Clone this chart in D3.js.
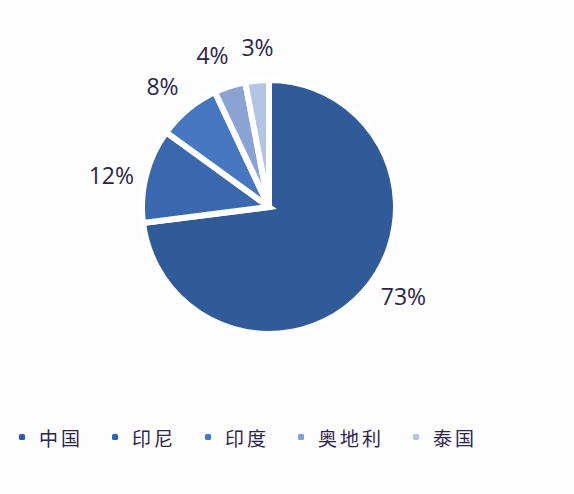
<!DOCTYPE html>
<html>
<head>
  <meta charset="utf-8">
  <script src="https://d3js.org/d3.v7.min.js"></script>
  <style>
    body { margin: 0; background: #fdfdfe; }
    .label { font-family: "Open Sans", "Noto Sans", sans-serif; font-size: 23px; fill: #2d2547; }
    .legend text { font-family: "Noto Sans CJK SC", sans-serif; font-size: 19px; fill: #2d2547; letter-spacing: 3px; }
  </style>
</head>
<body>
<script>
  var categories = ["中国", "印尼", "印度", "奥地利", "泰国"];
  var values = [73, 12, 8, 4, 3];
  var labels = ["73%", "12%", "8%", "4%", "3%"];
  var colors = ["#315b98", "#3a67ad", "#4677c0", "#8aa3d3", "#b4c4e6"];
  var legendColors = ["#2c5cb0", "#2f63b9", "#3d79d6", "#809fd7", "#b2c5e9"];

  var width = 574, height = 494;
  var cx = 269, cy = 207, radius = 127;

  var svg = d3.select("body").append("svg")
      .attr("width", width)
      .attr("height", height);

  var pie = d3.pie().sort(null).value(function(d) { return d; });
  var arcs = pie(values);

  var arc = d3.arc().innerRadius(0).outerRadius(radius);

  var g = svg.append("g").attr("transform", "translate(" + cx + "," + cy + ")");

  g.selectAll("path")
      .data(arcs)
      .enter().append("path")
      .attr("d", arc)
      .attr("fill", function(d, i) { return colors[i]; })
      .attr("stroke", "#fff")
      .attr("stroke-width", 6)
      .attr("stroke-linejoin", "miter");

  // label positions: a bit below the mid-angle on the sides, then pushed apart if crowded
  var pos = arcs.map(function(d, i) {
    var a = (d.startAngle + d.endAngle) / 2;
    a -= i === 0 ? 0.14 : 0.05 * Math.abs(Math.sin(a));
    var r = 161;
    return [Math.sin(a) * r, -Math.cos(a) * r];
  });
  for (var i = 2; i < pos.length; i++) {
    var gap = pos[i][0] - pos[i - 1][0];
    if (gap < 45) {
      pos[i - 1][0] -= (45 - gap) / 2;
      pos[i][0] += (45 - gap) / 2;
    }
  }

  g.selectAll("text.label")
      .data(arcs)
      .enter().append("text")
      .attr("class", "label")
      .attr("text-anchor", "middle")
      .attr("dominant-baseline", "central")
      .attr("transform", function(d, i) { return "translate(" + pos[i] + ")"; })
      .text(function(d, i) { return labels[i]; });

  var legend = svg.append("g").attr("class", "legend")
      .attr("transform", "translate(19,437)");

  var x = 0;
  categories.forEach(function(c, i) {
    var item = legend.append("g").attr("transform", "translate(" + x + ",0)");
    item.append("rect")
        .attr("x", 0).attr("y", -3)
        .attr("width", 6).attr("height", 6)
        .attr("rx", 1.5)
        .attr("fill", legendColors[i]);
    var t = item.append("text")
        .attr("x", 20)
        .attr("dominant-baseline", "central")
        .text(c);
    x += 20 + t.node().getComputedTextLength() + 29;
  });
</script>
</body>
</html>
